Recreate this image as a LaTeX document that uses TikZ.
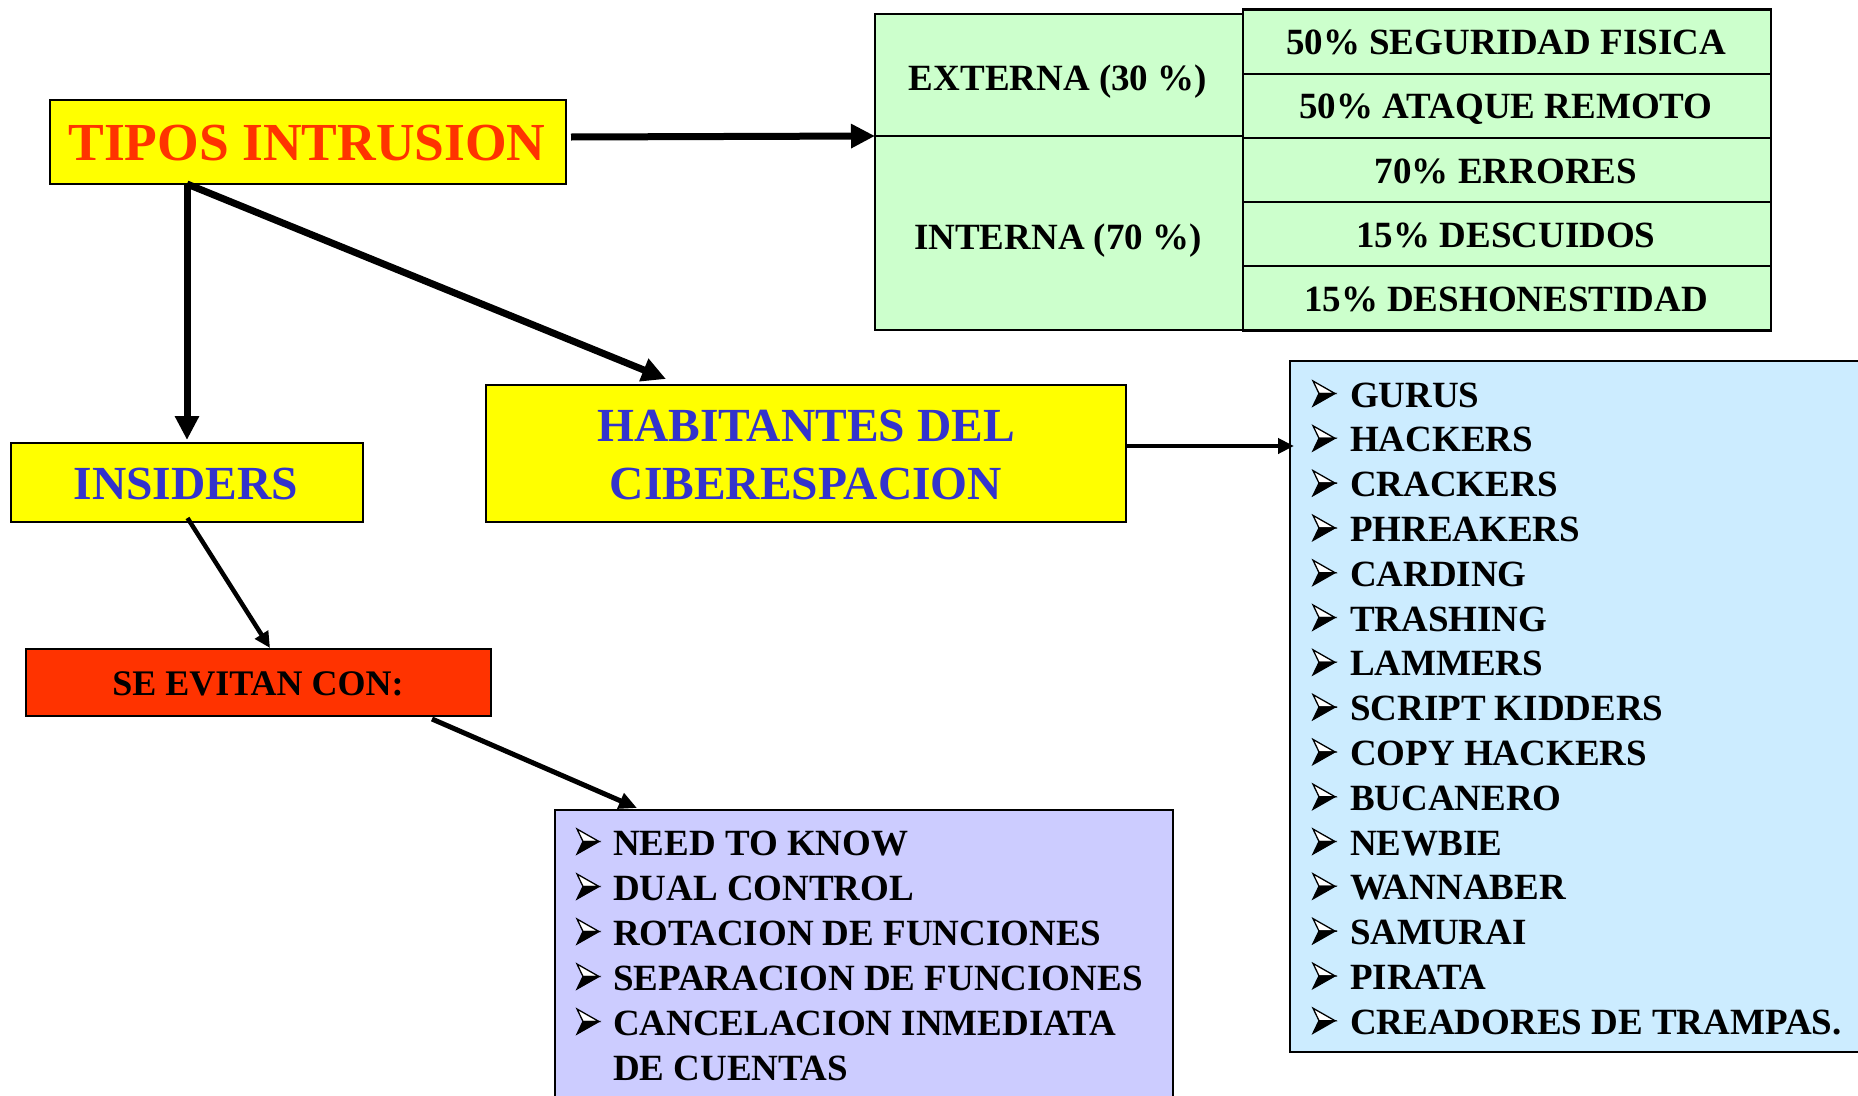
\documentclass[tikz,border=0pt]{standalone}
\usepackage{fontspec}
\setmainfont{Liberation Serif}
\usetikzlibrary{arrows.meta}
\definecolor{ylw}{HTML}{FFFF00}
\definecolor{redor}{HTML}{FF3300}
\definecolor{blutxt}{HTML}{3333CC}
\definecolor{grn}{HTML}{CCFFCC}
\definecolor{purp}{HTML}{CCCCFF}
\definecolor{lblue}{HTML}{CCECFF}
\begin{document}
\begin{tikzpicture}[x=1pt,y=-1pt,
  box/.style={draw=black,line width=2pt,inner sep=0pt,outer sep=0pt},
  cell/.style={draw=black,line width=2.2pt,fill=grn,inner sep=0pt,outer sep=0pt},
  txt/.style={inner sep=0pt,outer sep=0pt,anchor=base,font=\bfseries},
  item/.style={inner sep=0pt,outer sep=0pt,anchor=base west,font=\bfseries\fontsize{37}{45}\selectfont},
  bigarrow/.style={line width=7pt,-{Triangle[length=24pt,width=23pt]}},
  midarrow/.style={line width=5pt,-{Triangle[length=18pt,width=16pt]}},
  smallarrow/.style={line width=4.5pt,-{Triangle[length=16pt,width=15pt]}},
  arrbul/.pic={
    \draw[line width=1.3pt,line join=miter,fill=white] (0,-25) -- (22,-12.5) -- (6,-12.5) -- cycle;
    \draw[line width=1.3pt,line join=miter,fill=black] (6,-12.5) -- (22,-12.5) -- (0,0) -- cycle;
  }]
\clip (0,0) rectangle (1858,1095);
\fill[white] (0,0) rectangle (1858,1095);

% boxes
\node[box,fill=ylw,minimum width=516pt,minimum height=84pt] (tipos) at (308,142) {};
\node[box,fill=ylw,minimum width=352pt,minimum height=79pt] (insiders) at (187,482.5) {};
\node[box,fill=ylw,minimum width=640pt,minimum height=137pt] (habit) at (806,453.5) {};
\node[box,fill=redor,minimum width=465pt,minimum height=67pt] (sevitan) at (258.5,682.5) {};
\node[box,fill=purp,minimum width=618pt,minimum height=300pt] (purple) at (864,960) {};
\node[box,fill=lblue,minimum width=600pt,minimum height=691pt] (blue) at (1590,706.5) {};

% green table
\node[cell,minimum width=368pt,minimum height=122pt] (ext) at (1059,75) {};
\node[cell,minimum width=368pt,minimum height=194pt] (int) at (1059,233) {};
\foreach \i in {1,...,5}
  \node[cell,minimum width=528pt,minimum height=64.2pt] (r\i) at (1507,{41.6+64.2*(\i-1)}) {};

% texts
\node[txt,text=redor,font=\bfseries\fontsize{53.5}{60}\selectfont] (tiposT) at (307,160) {TIPOS INTRUSION};
\node[txt,text=blutxt,font=\bfseries\fontsize{47.5}{58}\selectfont] (insT) at (186,499) {INSIDERS};
\node[txt,text=blutxt,font=\bfseries\fontsize{47.5}{58}\selectfont] (habT1) at (806,441) {HABITANTES DEL};
\node[txt,text=blutxt,font=\bfseries\fontsize{47.5}{58}\selectfont] (habT2) at (806,499) {CIBERESPACION};
\node[txt,font=\bfseries\fontsize{36}{40}\selectfont] (sevT) at (258,695) {SE EVITAN CON:};
\node[txt,font=\bfseries\fontsize{37}{40}\selectfont] (extT) at (1058,90) {EXTERNA (30 \%)};
\node[txt,font=\bfseries\fontsize{37}{40}\selectfont] (intT) at (1058,249) {INTERNA (70 \%)};
\foreach \t [count=\i] in {50\% SEGURIDAD FISICA,50\% ATAQUE REMOTO,70\% ERRORES,15\% DESCUIDOS,15\% DESHONESTIDAD}
  \node[txt,font=\bfseries\fontsize{37}{40}\selectfont] (rT\i) at (1506,{54.6+64.2*(\i-1)}) {\t};

% blue list
\foreach \t [count=\i] in {GURUS,HACKERS,CRACKERS,PHREAKERS,CARDING,TRASHING,LAMMERS,SCRIPT KIDDERS,COPY HACKERS,BUCANERO,NEWBIE,WANNABER,SAMURAI,PIRATA,CREADORES DE TRAMPAS.}{
  \node[item] (hl\i) at (1313,{407+44.8*(\i-1)}) {\hspace{37pt}\t};
  \pic at (1313,{406+44.8*(\i-1)}) {arrbul};
}

% purple list
\foreach \t [count=\i] in {NEED TO KNOW,DUAL CONTROL,ROTACION DE FUNCIONES,SEPARACION DE FUNCIONES,CANCELACION INMEDIATA}{
  \node[item] (pl\i) at (577,{855+45*(\i-1)}) {\hspace{36pt}\t};
  \pic at (577,{854+45*(\i-1)}) {arrbul};
}
\node[item] (pl6) at (577,1080) {\hspace{36pt}DE CUENTAS};

% connector end points
\coordinate (tiposA) at (571,137);
\coordinate (tiposB) at (187,184);
\coordinate (habtip) at (666,379);
\coordinate (instart) at (187.5,518);
\coordinate (sevtip) at (270,648);
\coordinate (sevstart) at (432,719);
\coordinate (purtip) at (637,808);
\coordinate (bluetip) at (1294,446);

% connectors
\draw[bigarrow] (tiposA) -- (ext.south west);
\draw[bigarrow] (tiposB) -- ([yshift=3pt]insiders.north);
\draw[bigarrow] (tiposB) -- (habtip);
\draw[smallarrow] (instart) -- (sevtip);
\draw[midarrow] (sevstart) -- (purtip);
\draw[smallarrow] (habit.east |- bluetip) -- (bluetip);
\end{tikzpicture}
\end{document}
